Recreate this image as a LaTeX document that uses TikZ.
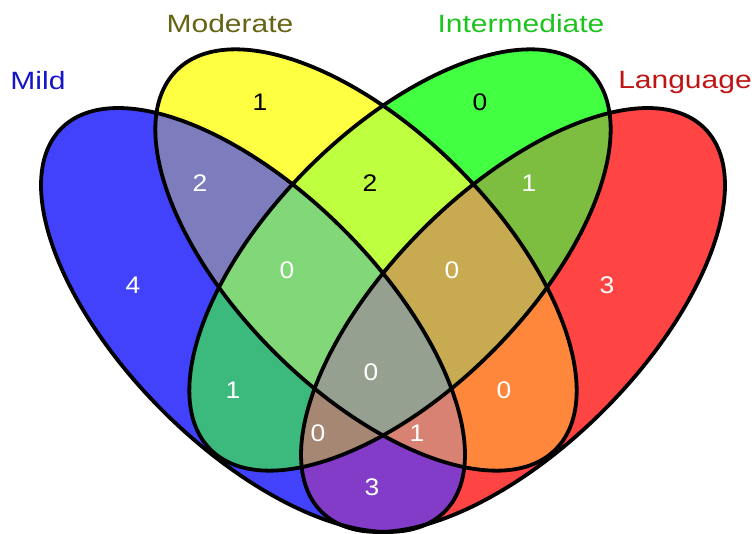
\documentclass[tikz,border=0pt]{standalone}
\usepackage{fontspec}
\setmainfont{Liberation Sans}
\definecolor{cA}{RGB}{66,66,252}
\definecolor{cB}{RGB}{255,255,66}
\definecolor{cC}{RGB}{66,255,66}
\definecolor{cD}{RGB}{255,68,68}
\definecolor{cAB}{RGB}{125,125,190}
\definecolor{cAC}{RGB}{60,186,125}
\definecolor{cAD}{RGB}{130,60,200}
\definecolor{cBC}{RGB}{190,255,64}
\definecolor{cBD}{RGB}{255,135,60}
\definecolor{cCD}{RGB}{125,190,64}
\definecolor{cABC}{RGB}{130,215,120}
\definecolor{cABD}{RGB}{215,130,115}
\definecolor{cACD}{RGB}{165,135,115}
\definecolor{cBCD}{RGB}{200,170,80}
\definecolor{cABCD}{RGB}{150,160,145}
\definecolor{tA}{RGB}{20,20,200}
\definecolor{tB}{RGB}{100,100,20}
\definecolor{tC}{RGB}{30,195,30}
\definecolor{tD}{RGB}{190,20,20}
\def\EA{(253,213) circle [x radius=271, y radius=128, rotate=-45]}
\def\EB{(366,273) circle [x radius=268, y radius=130, rotate=-45]}
\def\EC{(400,273) circle [x radius=268, y radius=130, rotate=45]}
\def\ED{(513,213) circle [x radius=271, y radius=128, rotate=45]}
\tikzset{
  outline/.style={draw=black, line width=3.8pt},
  num/.style={font=\fontsize{24}{24}\selectfont, text=white, xscale=1.1, inner sep=0pt},
  numk/.style={num, text=black},
  setlabel/.style={font=\fontsize{25}{25}\selectfont, xscale=1.2, inner sep=0pt}
}
\begin{document}
\begin{tikzpicture}[x=1pt,y=1pt]
\useasboundingbox (0,0) rectangle (754,533);
% single sets
\fill[cA] \EA;
\fill[cB] \EB;
\fill[cC] \EC;
\fill[cD] \ED;
% pairs
\begin{scope}\clip \EA; \fill[cAB] \EB; \end{scope}
\begin{scope}\clip \EA; \fill[cAC] \EC; \end{scope}
\begin{scope}\clip \EA; \fill[cAD] \ED; \end{scope}
\begin{scope}\clip \EB; \fill[cBC] \EC; \end{scope}
\begin{scope}\clip \EB; \fill[cBD] \ED; \end{scope}
\begin{scope}\clip \EC; \fill[cCD] \ED; \end{scope}
% triples
\begin{scope}\clip \EA; \clip \EB; \fill[cABC] \EC; \end{scope}
\begin{scope}\clip \EA; \clip \EB; \fill[cABD] \ED; \end{scope}
\begin{scope}\clip \EA; \clip \EC; \fill[cACD] \ED; \end{scope}
\begin{scope}\clip \EB; \clip \EC; \fill[cBCD] \ED; \end{scope}
% all four
\begin{scope}\clip \EA; \clip \EB; \clip \EC; \fill[cABCD] \ED; \end{scope}
% outlines
\path[outline] \EA;
\path[outline] \EB;
\path[outline] \EC;
\path[outline] \ED;
% set labels
\node[setlabel, text=tA] (lA) at (38,452) {Mild};
\node[setlabel, text=tB] (lB) at (230,509) {Moderate};
\node[setlabel, text=tC] (lC) at (521,509) {Intermediate};
\node[setlabel, text=tD] (lD) at (685,451) {Language};
% counts
\node[num] (nA) at (133,248) {4};
\node[numk] (nB) at (260,431) {1};
\node[numk] (nC) at (480,431) {0};
\node[num] (nD) at (607,248) {3};
\node[num] (nAB) at (200,350) {2};
\node[numk] (nBC) at (370,350) {2};
\node[num] (nCD) at (529,350) {1};
\node[num] (nABC) at (287,263) {0};
\node[num] (nBCD) at (452,263) {0};
\node[num] (nAC) at (233,143) {1};
\node[num] (nABCD) at (371,161) {0};
\node[num] (nBD) at (504,143) {0};
\node[num] (nACD) at (318,100) {0};
\node[num] (nABD) at (417,100) {1};
\node[num] (nAD) at (372,46) {3};
\end{tikzpicture}
\end{document}
